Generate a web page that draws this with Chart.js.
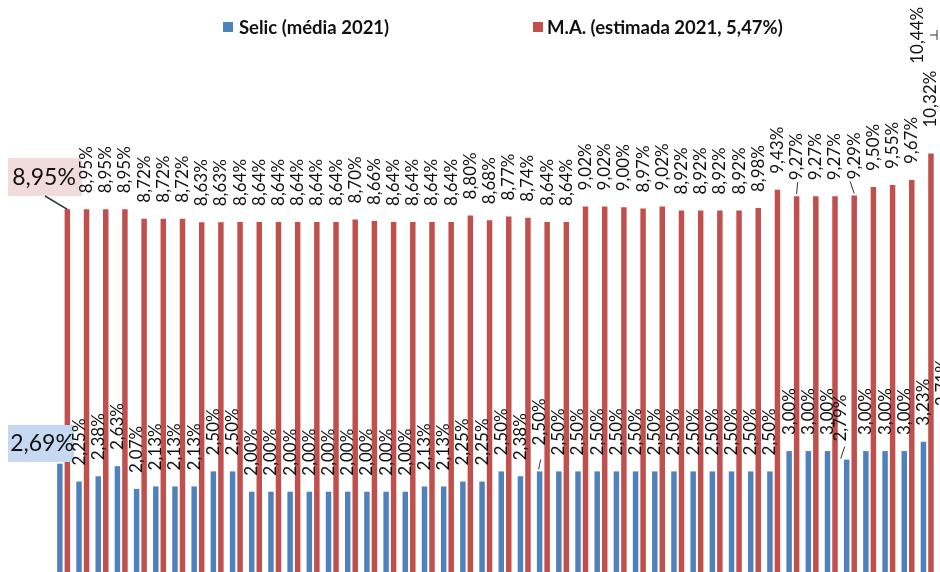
<!DOCTYPE html>
<html>
<head>
<meta charset="utf-8">
<script src="https://cdn.jsdelivr.net/npm/chart.js@4"></script>
<style>
  body { margin: 0; overflow: hidden; background: #fff; width: 940px; height: 572px; }
  #wrap { position: relative; width: 964px; height: 573px; }
  .sq { position: absolute; width: 10px; height: 10px; }
  .lg { position: absolute; font: bold 18.5px Lato, sans-serif; color: #111; white-space: nowrap; line-height: 22px; }
</style>
</head>
<body>
<div id="wrap">
  <canvas id="myChart" width="964" height="573"></canvas>
  <div class="sq" style="left:223px; top:22px; background:#4F81BD"></div>
  <div class="lg" id="lg1" style="left:239px; top:16px"></div>
  <div class="sq" style="left:533px; top:22px; background:#C0504D"></div>
  <div class="lg" id="lg2" style="left:547px; top:16px"></div>
</div>
<script>
// data (47 groups, the last one falls past the right edge)
var categories = ['1','2','3','4','5','6','7','8','9','10','11','12','13','14','15','16',
  '17','18','19','20','21','22','23','24','25','26','27','28','29','30','31','32',
  '33','34','35','36','37','38','39','40','41','42','43','44','45','46','47'];

var seriesNames = ['Selic (média 2021)', 'M.A. (estimada 2021, 5,47%)'];

var selic = [2.69, 2.25, 2.38, 2.63, 2.07, 2.13, 2.13, 2.13, 2.50, 2.50,
  2.00, 2.00, 2.00, 2.00, 2.00, 2.00, 2.00, 2.00, 2.00,
  2.13, 2.13, 2.25, 2.25, 2.50, 2.38,
  2.50, 2.50, 2.50, 2.50, 2.50, 2.50, 2.50, 2.50, 2.50, 2.50, 2.50, 2.50, 2.50,
  3.00, 3.00, 3.00, 2.79, 3.00, 3.00, 3.00, 3.23, 3.71];

var ma = [8.95, 8.95, 8.95, 8.95, 8.72, 8.72, 8.72, 8.63, 8.63,
  8.64, 8.64, 8.64, 8.64, 8.64, 8.64, 8.70, 8.66, 8.64, 8.64, 8.64, 8.64,
  8.80, 8.68, 8.77, 8.74, 8.64, 8.64,
  9.02, 9.02, 9.00, 8.97, 9.02, 8.92, 8.92, 8.92, 8.92, 8.98,
  9.43, 9.27, 9.27, 9.27, 9.29, 9.50, 9.55, 9.67, 10.32, 10.44];

var barColors = ['#4F81BD', '#C0504D'];

document.getElementById('lg1').textContent = seriesNames[0];
document.getElementById('lg2').textContent = seriesNames[1];

function fmt(v) {
  return v.toFixed(2).replace('.', ',') + '%';
}

// labels that were dragged around in the original
var moved = [
  { 25: { dy: -10 }, 41: { dx: -6, dy: -2 } },
  { 45: { dy: -10 }, 46: { dx: -33, dy: -69 } }
];

function line(ctx, x1, y1, x2, y2) {
  ctx.beginPath();
  ctx.moveTo(x1, y1);
  ctx.lineTo(x2, y2);
  ctx.stroke();
}

var barLabels = {
  id: 'barLabels',
  afterDatasetsDraw(chart) {
    var ctx = chart.ctx;
    ctx.save();

    // boxed labels of the first group
    var r0 = chart.getDatasetMeta(1).data[0];
    ctx.fillStyle = '#F2DCDB';
    ctx.fillRect(8, 158, 74, 38);
    ctx.fillStyle = '#C6D9F1';
    ctx.fillRect(8, 425, 66, 37);
    ctx.strokeStyle = '#333';
    ctx.lineWidth = 1.5;
    line(ctx, 45, 196, r0.x, r0.y);
    ctx.fillStyle = '#111';
    ctx.font = '23px Lato, sans-serif';
    ctx.textAlign = 'center';
    ctx.textBaseline = 'middle';
    ctx.fillText(fmt(ma[0]), 44, 178);
    ctx.fillText(fmt(selic[0]), 42, 444);

    // rotated value labels
    ctx.font = '17px Lato, sans-serif';
    ctx.textAlign = 'left';
    chart.data.datasets.forEach(function (ds, di) {
      chart.getDatasetMeta(di).data.forEach(function (bar, i) {
        if (i === 0) return;
        var m = moved[di][i] || {};
        var x = bar.x + (m.dx || 0);
        var y = bar.y - 16 + (m.dy || 0);
        ctx.save();
        ctx.translate(x, y);
        ctx.rotate(-Math.PI / 2);
        ctx.fillText(fmt(ds.data[i]), 0, 0);
        ctx.restore();
      });
    });

    // leader lines
    ctx.lineWidth = 1;
    var blue = chart.getDatasetMeta(0).data;
    var red = chart.getDatasetMeta(1).data;
    line(ctx, blue[25].x + 1, blue[25].y - 12, blue[25].x - 1, blue[25].y - 2);
    line(ctx, blue[41].x - 2, blue[41].y - 13, blue[41].x - 6, blue[41].y - 1);
    line(ctx, red[38].x + 1, red[38].y - 14, red[38].x, red[38].y - 2);
    line(ctx, red[41].x - 4, red[41].y - 14, red[41].x, red[41].y - 2);
    line(ctx, 930, 35, 937, 35);
    line(ctx, 937, 30, 937, 40);

    ctx.restore();
  }
};

new Chart('myChart', {
  type: 'bar',
  data: {
    labels: categories,
    datasets: [
      { label: seriesNames[0], data: selic, backgroundColor: barColors[0] },
      { label: seriesNames[1], data: ma, backgroundColor: barColors[1] }
    ]
  },
  options: {
    responsive: false,
    animation: false,
    layout: { padding: { left: 54, right: 8, top: 0, bottom: 0 } },
    datasets: { bar: { categoryPercentage: 0.782, barPercentage: 0.73 } },
    scales: {
      x: { display: false },
      y: { display: false, min: 0, max: 14.1 }
    },
    plugins: {
      legend: { display: false },
      tooltip: { enabled: false }
    }
  },
  plugins: [barLabels]
});
</script>
</body>
</html>
